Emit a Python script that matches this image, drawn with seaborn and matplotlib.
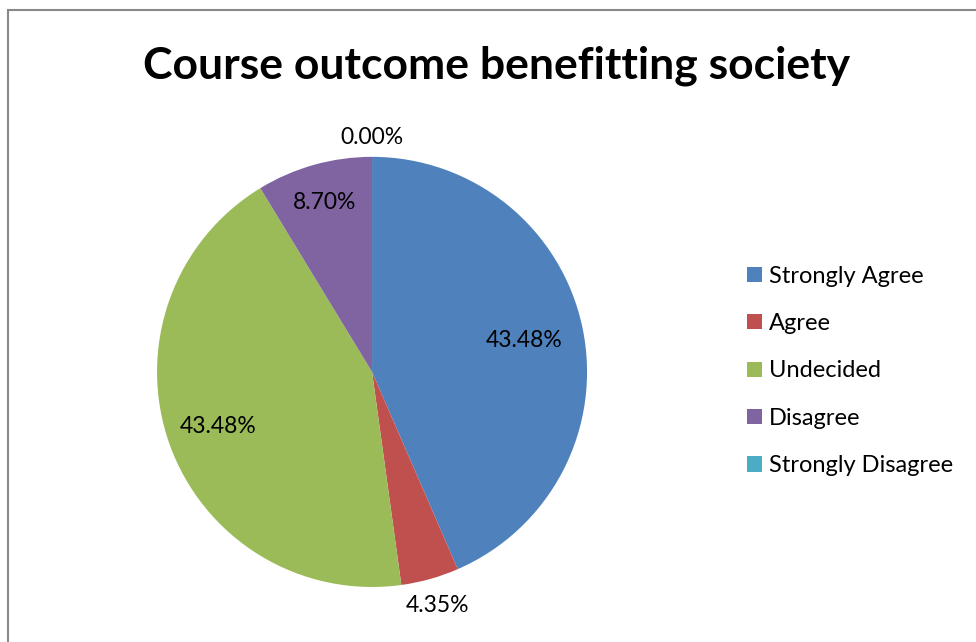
import numpy as np
import matplotlib
matplotlib.use("Agg")
import matplotlib.pyplot as plt
import seaborn as sns
from matplotlib.patches import Rectangle, Patch

categories = ["Strongly Agree", "Agree", "Undecided", "Disagree", "Strongly Disagree"]
percent = [43.48, 4.35, 43.48, 8.70, 0.00]
colors = ["#4F81BD", "#C0504D", "#9BBB59", "#8064A2", "#4BACC6"]
# how far from the centre each percent label sits (fraction of radius)
label_radius = [0.72, 1.13, 0.76, 0.82, 1.09]

sns.set_theme(style="white")
plt.rcParams["font.family"] = ["Lato", "DejaVu Sans"]
plt.rcParams["text.color"] = "black"
palette = sns.color_palette(colors)

fig = plt.figure(figsize=(9.76, 6.42), dpi=100)
ax = fig.add_axes([0.1609, 0.0857, 0.4406, 0.67])

wedges, _ = ax.pie(percent, colors=palette, startangle=90, counterclock=False,
                   radius=1.0, wedgeprops=dict(linewidth=0))
ax.set_xlim(-1, 1)
ax.set_ylim(-1, 1)
ax.set_aspect("auto")

for w, p, r in zip(wedges, percent, label_radius):
    mid = np.deg2rad((w.theta1 + w.theta2) / 2)
    ax.text(r * np.cos(mid), r * np.sin(mid), f"{p:.2f}%",
            ha="center", va="center", fontsize=16.5, color="black")

fig.text(0.509, 0.897, "Course outcome benefitting society",
         ha="center", va="center", fontsize=32, fontweight="bold", color="black")

handles = [Patch(facecolor=c, edgecolor="none") for c in palette]
leg = fig.legend(handles, categories, loc="upper left", bbox_to_anchor=(0.756, 0.601),
                 frameon=False, fontsize=17, handlelength=0.62, handleheight=0.62,
                 handletextpad=0.3, labelspacing=1.12, borderaxespad=0)
for t in leg.get_texts():
    t.set_color("black")

fig.patches.append(Rectangle((8 / 976, -0.1), 1.2, 1 - 10 / 642 + 0.1,
                             transform=fig.transFigure, fill=False,
                             edgecolor="#898989", linewidth=1.5))

fig.savefig("out.png", dpi=100)
